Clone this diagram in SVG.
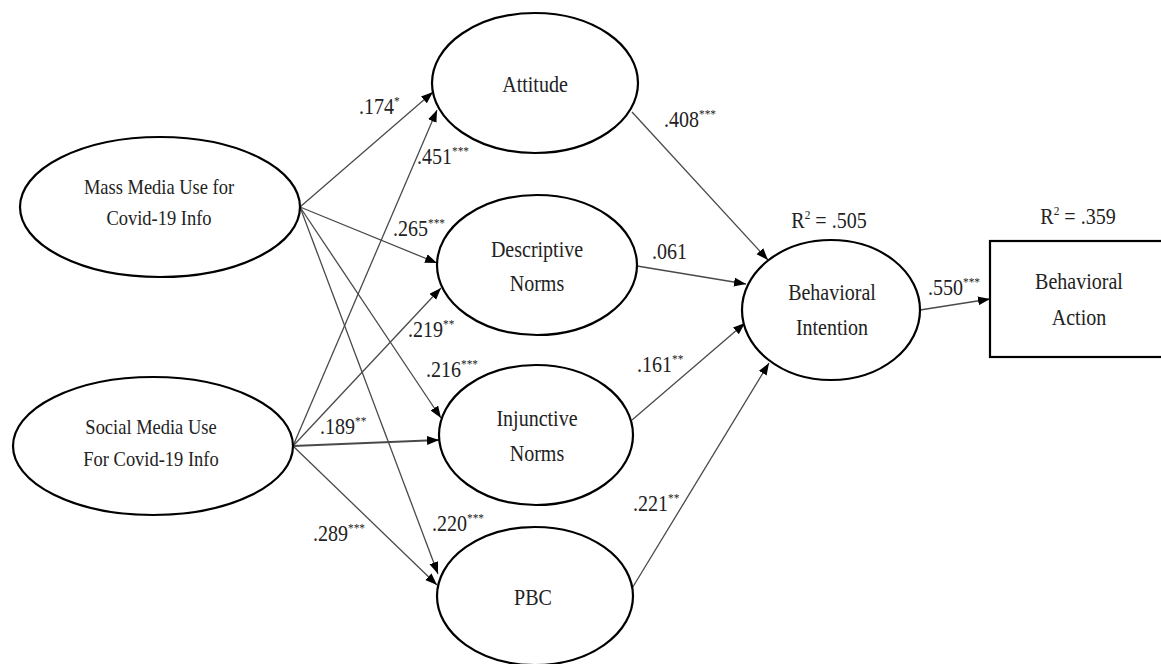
<svg xmlns="http://www.w3.org/2000/svg" width="1161" height="664" viewBox="0 0 1161 664">
<style>
  .node { fill: #ffffff; stroke: #000000; stroke-width: 2.2; }
  .t { font-family: "Liberation Serif", "Times New Roman", serif; font-size: 23px; fill: #222222; transform-box: fill-box; transform-origin: 0% 100%; transform: scaleX(0.87); }
  .c { text-anchor: middle; transform-origin: 50% 100%; }
  .src { font-size: 21px; transform: scaleX(0.88); }
  .edge { stroke: #4a4a4a; stroke-width: 1.3; fill: none; marker-end: url(#arrow); }
  .sup { font-size: 13px; }
</style>
<defs>
  <marker id="arrow" markerWidth="13" markerHeight="10" refX="12" refY="4.5" orient="auto" markerUnits="userSpaceOnUse">
    <path d="M0,0 L12,4.5 L0,9 z" fill="#000000"/>
  </marker>
</defs>
<rect x="0" y="0" width="1161" height="664" fill="#ffffff"/>

<g id="connectors">
  <line class="edge" x1="300" y1="207" x2="433" y2="92"/>
  <line class="edge" x1="293" y1="446" x2="437" y2="110"/>
  <line class="edge" x1="300" y1="207" x2="437" y2="263"/>
  <line class="edge" x1="293" y1="446" x2="441" y2="288"/>
  <line class="edge" x1="300" y1="207" x2="441" y2="418"/>
  <line class="edge" x1="293" y1="446" x2="439" y2="440" style="stroke-width:1.8"/>
  <line class="edge" x1="300" y1="207" x2="438" y2="574"/>
  <line class="edge" x1="293" y1="446" x2="437" y2="585"/>
  <line class="edge" x1="632" y1="112" x2="768" y2="260"/>
  <line class="edge" x1="637" y1="266" x2="746" y2="284"/>
  <line class="edge" x1="632" y1="420" x2="745" y2="323"/>
  <line class="edge" x1="631" y1="590" x2="769" y2="363"/>
  <line class="edge" x1="920" y1="310" x2="990" y2="299"/>
</g>

<g id="labels">
  <text class="t" x="359" y="114">.174<tspan class="sup" dy="-9">*</tspan></text>
  <text class="t" x="417" y="164">.451<tspan class="sup" dy="-9">***</tspan></text>
  <text class="t" x="393" y="236">.265<tspan class="sup" dy="-9">***</tspan></text>
  <text class="t" x="408" y="337">.219<tspan class="sup" dy="-9">**</tspan></text>
  <text class="t" x="426" y="377">.216<tspan class="sup" dy="-9">***</tspan></text>
  <text class="t" x="320" y="434">.189<tspan class="sup" dy="-9">**</tspan></text>
  <text class="t" x="313" y="541">.289<tspan class="sup" dy="-9">***</tspan></text>
  <text class="t" x="432" y="531">.220<tspan class="sup" dy="-9">***</tspan></text>
  <text class="t" x="664" y="127">.408<tspan class="sup" dy="-9">***</tspan></text>
  <text class="t" x="652" y="259">.061</text>
  <text class="t" x="637" y="372">.161<tspan class="sup" dy="-9">**</tspan></text>
  <text class="t" x="633" y="511">.221<tspan class="sup" dy="-9">**</tspan></text>
  <text class="t" x="928" y="295">.550<tspan class="sup" dy="-9">***</tspan></text>
  <text class="t c" x="829" y="228">R<tspan class="sup" dy="-9">2</tspan><tspan dy="9"> = .505</tspan></text>
  <text class="t c" x="1078" y="224">R<tspan class="sup" dy="-9">2</tspan><tspan dy="9"> = .359</tspan></text>
</g>

<g id="mass-media">
  <ellipse class="node" cx="160" cy="207" rx="140" ry="70"/>
  <text class="t c src" x="159" y="194">Mass Media Use for</text>
  <text class="t c src" x="159" y="225">Covid-19 Info</text>
</g>
<g id="social-media">
  <ellipse class="node" cx="153" cy="446" rx="140" ry="69"/>
  <text class="t c src" x="151" y="434">Social Media Use</text>
  <text class="t c src" x="151" y="466">For Covid-19 Info</text>
</g>
<g id="attitude">
  <ellipse class="node" cx="535" cy="83" rx="103" ry="70"/>
  <text class="t c" x="535" y="92">Attitude</text>
</g>
<g id="descriptive-norms">
  <ellipse class="node" cx="537" cy="265" rx="100" ry="70"/>
  <text class="t c" x="537" y="257">Descriptive</text>
  <text class="t c" x="537" y="291">Norms</text>
</g>
<g id="injunctive-norms">
  <ellipse class="node" cx="536" cy="435" rx="97" ry="70"/>
  <text class="t c" x="537" y="426">Injunctive</text>
  <text class="t c" x="537" y="461">Norms</text>
</g>
<g id="pbc">
  <ellipse class="node" cx="535" cy="596" rx="98" ry="69"/>
  <text class="t c" x="533" y="605">PBC</text>
</g>
<g id="behavioral-intention">
  <ellipse class="node" cx="831" cy="310" rx="89" ry="70"/>
  <text class="t c" x="832" y="300">Behavioral</text>
  <text class="t c" x="832" y="335">Intention</text>
</g>
<g id="behavioral-action">
  <rect class="node" x="990" y="241" width="178" height="116"/>
  <text class="t c" x="1079" y="289">Behavioral</text>
  <text class="t c" x="1079" y="325">Action</text>
</g>
</svg>
